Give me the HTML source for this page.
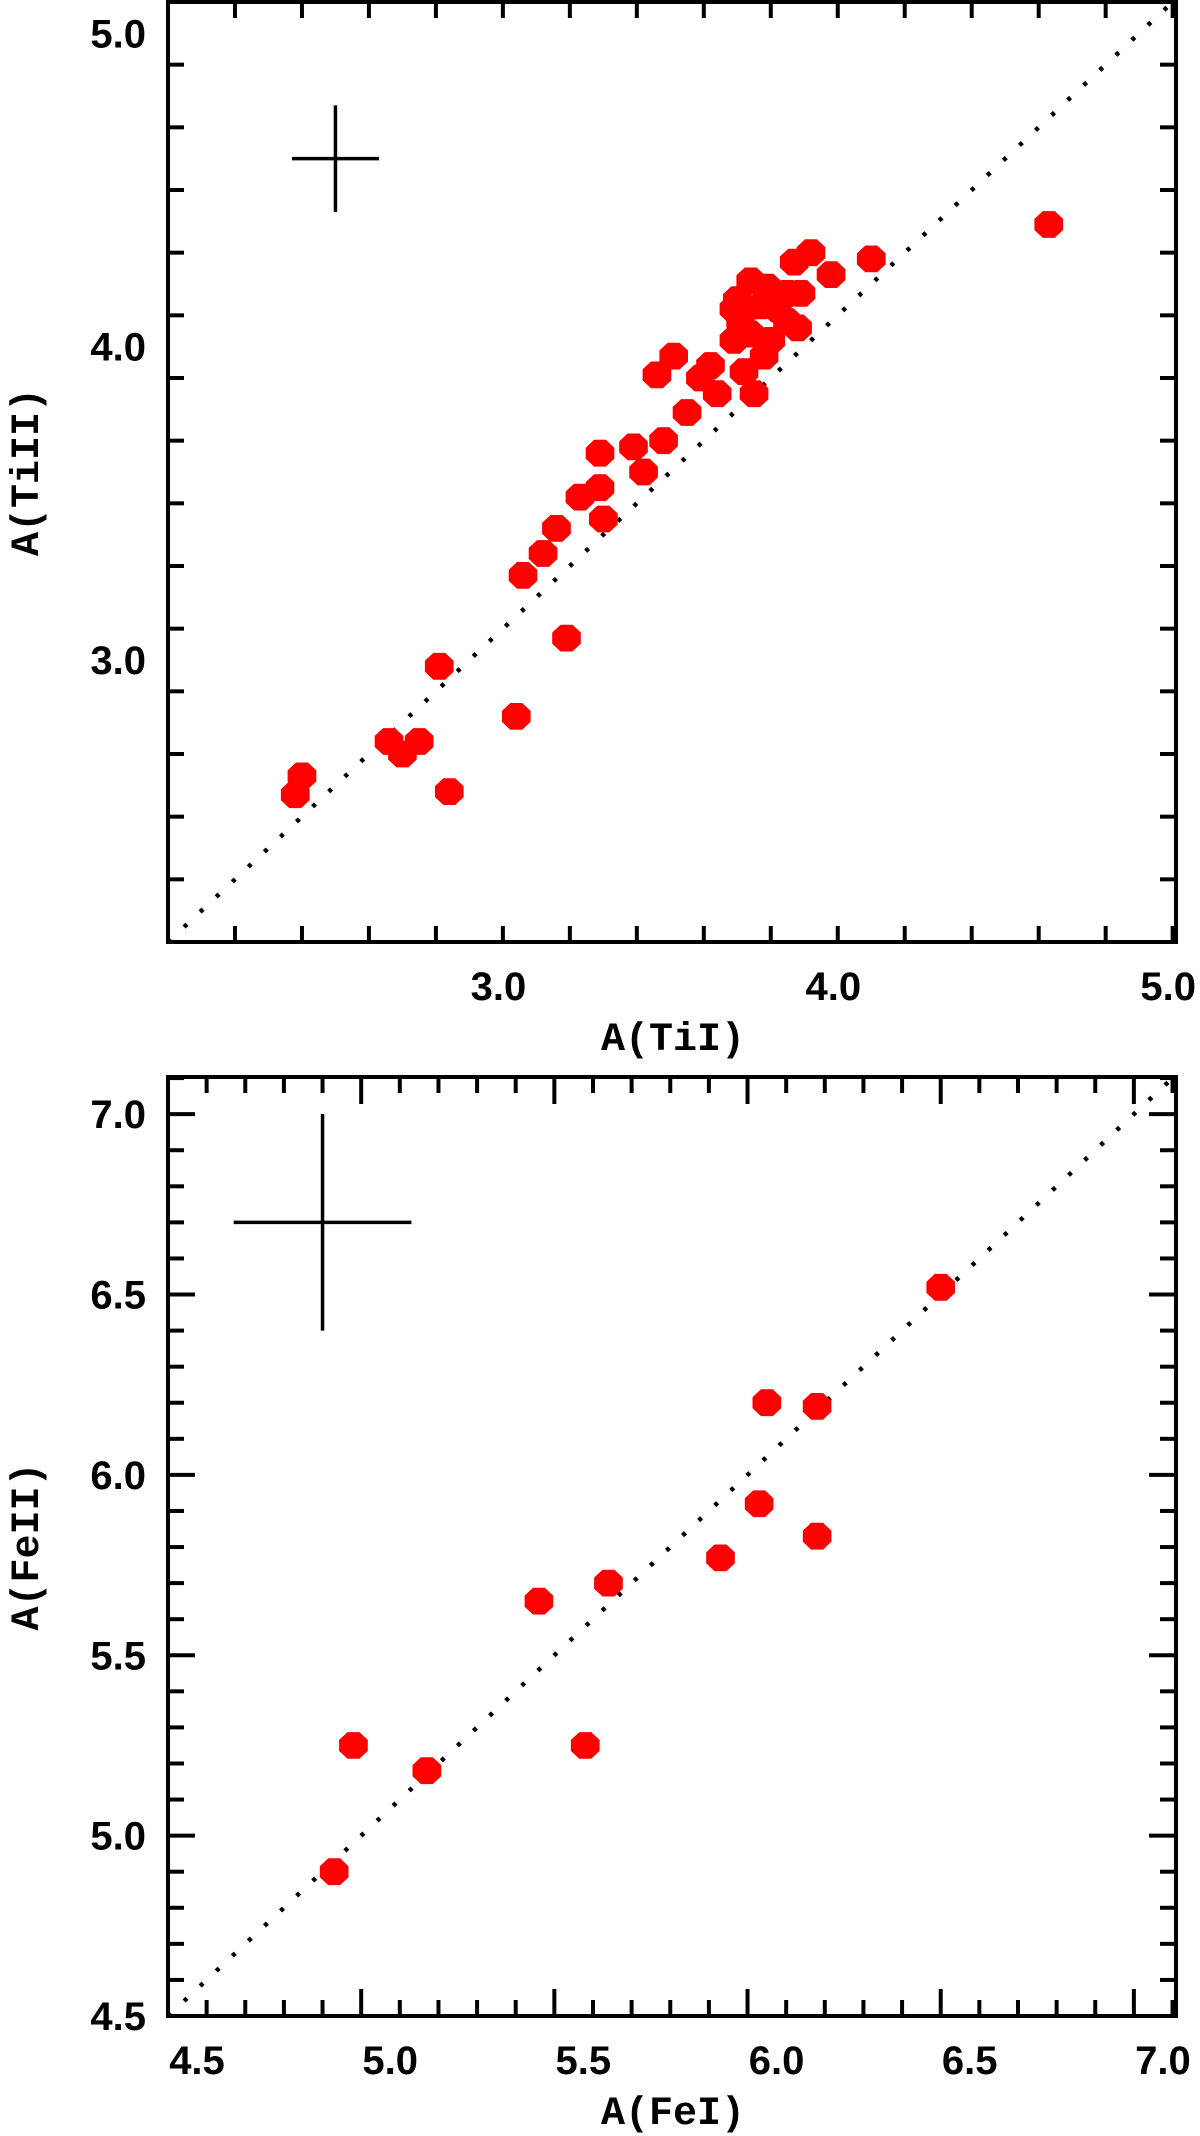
<!DOCTYPE html>
<html><head><meta charset="utf-8"><style>
html,body{margin:0;padding:0;background:#fff;}
svg{display:block;}
.tl{font-family:"Liberation Sans",sans-serif;font-weight:bold;font-size:40px;fill:#000;}
.tt{font-family:"Liberation Mono",monospace;font-weight:bold;font-size:40px;fill:#000;}
</style></head><body>
<svg id="chart" width="1200" height="2136" viewBox="0 0 1200 2136" xmlns="http://www.w3.org/2000/svg"></svg>
<script>
// ---- Top panel data: A(TiI) vs A(TiII)
const tiI  = [4.73,4.20,4.08,4.02,3.97,3.98,3.84,3.80,3.89,3.95,3.99,3.81,3.87,3.92,3.79,3.84,3.88,3.82,3.85,3.74,3.69,3.72,3.61,3.56,3.65,3.58,3.49,3.52,3.39,3.39,3.33,3.40,3.26,3.22,3.16,3.29,2.91,3.14,2.85,2.76,2.80,2.50,2.48,2.94,3.79,3.90,3.95];
const tiII = [4.39,4.28,4.23,4.30,4.27,4.06,4.21,4.15,4.19,4.17,4.17,4.08,4.13,4.12,4.02,4.04,3.97,3.92,3.85,3.85,3.90,3.94,3.97,3.91,3.79,3.70,3.68,3.60,3.66,3.55,3.52,3.45,3.42,3.34,3.27,3.07,2.98,2.82,2.74,2.74,2.70,2.63,2.57,2.58,4.12,4.02,4.08];
const topTickLabelsX = ["3.0","4.0","5.0"];
const topTickValsX = [3,4,5];
const topTickLabelsY = ["3.0","4.0","5.0"];
const topTickValsY = [3,4,5];
// ---- Bottom panel data: A(FeI) vs A(FeII)
const feI  = [4.93,4.98,5.17,5.46,5.58,5.64,5.93,6.03,6.05,6.18,6.18,6.50];
const feII = [4.90,5.25,5.18,5.65,5.25,5.70,5.77,5.92,6.20,6.19,5.83,6.52];
const botTickLabelsX = ["4.5","5.0","5.5","6.0","6.5","7.0"];
const botTickValsX = [4.5,5.0,5.5,6.0,6.5,7.0];
const botTickLabelsY = ["4.5","5.0","5.5","6.0","6.5","7.0"];
const botTickValsY = [4.5,5.0,5.5,6.0,6.5,7.0];
// error crosses [xc, yc, halfx, halfy]
const topErr = [2.60, 4.60, 0.13, 0.17];
const botErr = [4.90, 6.70, 0.23, 0.30];

const NS="http://www.w3.org/2000/svg";
const svg=document.getElementById('chart');
function mk(tag,attrs,parent){const e=document.createElementNS(NS,tag);for(const k in attrs)e.setAttribute(k,attrs[k]);(parent||svg).appendChild(e);return e;}

function panel(p){
  const g=mk('g',{});
  
  
  const sx=v=>p.L+(v-p.x0)/(p.x1-p.x0)*(p.R-p.L);
  const sy=v=>p.B-(v-p.y0)/(p.y1-p.y0)*(p.B-p.T);
  const clip=mk('clipPath',{id:p.name+'-clip'},g);
  mk('rect',{x:p.L,y:p.T,width:p.R-p.L,height:p.B-p.T},clip);
  const lo=Math.min(p.x0,p.y0), hi=Math.max(p.x1,p.y1);
  const d=mk('line',{x1:sx(lo),y1:sy(lo),x2:sx(hi),y2:sy(hi),stroke:'#000','stroke-width':4.5,'stroke-dasharray':'4 18','clip-path':'url(#'+p.name+'-clip)'},g);
  
  
  for(let i=0;i<p.xs.length;i++){
    const cx=sx(p.xs[i]), cy=sy(p.ys[i]);
    const pts=[];
    for(let k=0;k<8;k++){const a=Math.PI/8+k*Math.PI/4;pts.push((cx+15.5*Math.cos(a)).toFixed(1)+','+(cy+14.5*Math.sin(a)).toFixed(1));}
    const m=mk('polygon',{points:pts.join(' '),fill:'#ff0000'},g);
    
    
  }
  const e=p.err;
  const eg=mk('g',{stroke:'#000','stroke-width':3.5},g);
  
  
  mk('line',{x1:sx(e[0]-e[2]),y1:sy(e[1]),x2:sx(e[0]+e[2]),y2:sy(e[1])},eg);
  mk('line',{x1:sx(e[0]),y1:sy(e[1]-e[3]),x2:sx(e[0]),y2:sy(e[1]+e[3])},eg);
  const tg=mk('g',{stroke:'#000','stroke-width':4},g);
  for(let v=p.x0+p.xminor;v<p.x1-1e-6;v+=p.xminor){
    const maj=Math.abs(v/p.xmajor-Math.round(v/p.xmajor))<1e-6;
    const len=maj?27:16, x=sx(v);
    mk('line',{x1:x,y1:p.B,x2:x,y2:p.B-len},tg);
    mk('line',{x1:x,y1:p.T,x2:x,y2:p.T+len},tg);
  }
  for(let v=p.y0+p.yminor;v<p.y1-1e-6;v+=p.yminor){
    const maj=Math.abs(v/p.ymajor-Math.round(v/p.ymajor))<1e-6;
    const len=maj?27:16, y=sy(v);
    mk('line',{x1:p.L,y1:y,x2:p.L+len,y2:y},tg);
    mk('line',{x1:p.R,y1:y,x2:p.R-len,y2:y},tg);
  }
  const f=mk('rect',{x:p.L,y:p.T,width:p.R-p.L,height:p.B-p.T,fill:'none',stroke:'#000','stroke-width':4},g);
  
  
  p.xtv.forEach((v,i)=>{
    const t=mk('text',{x:sx(v)+29,y:p.B+58,'text-anchor':'middle',class:'tl'},g);
    t.textContent=p.xtl[i];
    
    
  });
  p.ytv.forEach((v,i)=>{
    const t=mk('text',{x:146,y:sy(v)+14,'text-anchor':'end',class:'tl'},g);
    t.textContent=p.ytl[i];
    
    
  });
  const xt=mk('text',{x:673,y:p.B+108,'text-anchor':'middle',class:'tt'},g);
  xt.textContent=p.xtitle;
  
  
  const yc=(p.T+p.B)/2;
  const yt=mk('text',{x:38,y:yc,'text-anchor':'middle',class:'tt',transform:'rotate(-90 38 '+yc+')'},g);
  yt.textContent=p.ytitle;
  
  
}

panel({name:'tiI-vs-tiII-panel',L:168,R:1176,T:2,B:942,x0:2.1,x1:5.11,y0:2.1,y1:5.1,xminor:0.2,xmajor:1,yminor:0.2,ymajor:1,
  xs:tiI,ys:tiII,err:topErr,xtv:topTickValsX,xtl:topTickLabelsX,ytv:topTickValsY,ytl:topTickLabelsY,xtitle:'A(TiI)',ytitle:'A(TiII)'});
panel({name:'feI-vs-feII-panel',L:168,R:1176,T:1077,B:2016,x0:4.5,x1:7.109,y0:4.5,y1:7.103,xminor:0.1,xmajor:0.5,yminor:0.1,ymajor:0.5,
  xs:feI,ys:feII,err:botErr,xtv:botTickValsX,xtl:botTickLabelsX,ytv:botTickValsY,ytl:botTickLabelsY,xtitle:'A(FeI)',ytitle:'A(FeII)'});
</script>
</body></html>
